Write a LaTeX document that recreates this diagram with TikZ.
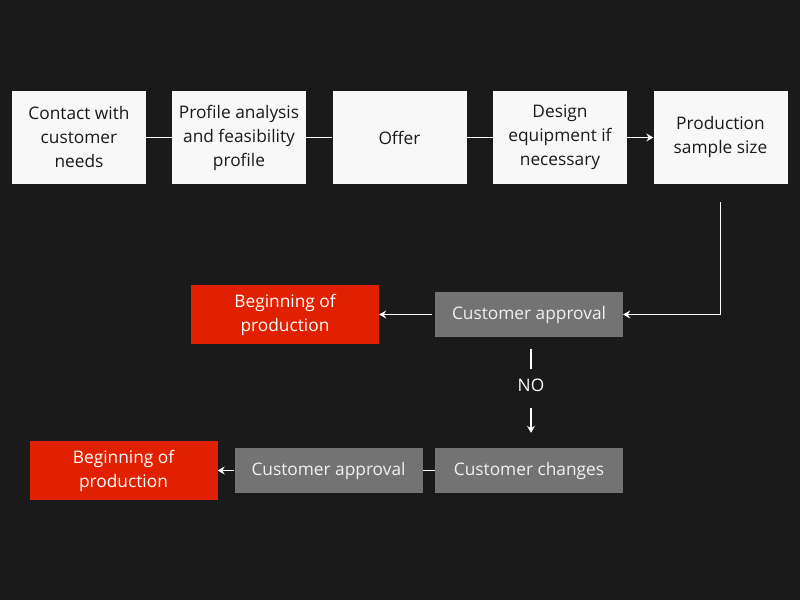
\documentclass[tikz,border=0pt]{standalone}
\usepackage{fontspec}
\setmainfont{Open Sans}
\usetikzlibrary{arrows.meta, positioning, calc}
\usepackage{xcolor}
\definecolor{bgdark}{RGB}{26,26,26}
\definecolor{boxwhite}{RGB}{248,248,248}
\definecolor{boxgray}{RGB}{115,115,115}
\definecolor{boxred}{RGB}{224,32,0}

\begin{document}
\begin{tikzpicture}[x=1pt, y=-1pt, font=\fontsize{17.3}{24}\selectfont,
  boxbase/.style={inner sep=0pt, align=center, execute at begin node={\vspace*{4pt}}},
  stagebox/.style={boxbase, fill=boxwhite, text=bgdark, minimum width=134pt, minimum height=93pt},
  checkbox/.style={boxbase, fill=boxgray, text=white!94!black, minimum width=188pt, minimum height=45pt},
  startbox/.style={boxbase, fill=boxred, text=white, minimum width=188pt, minimum height=59pt},
  link/.style={draw=white, line width=1.6pt},
  flow/.style={link, -{Stealth[length=7pt,width=8pt,inset=2.5pt]}}]
  % Canvas
  \fill[bgdark] (0,0) rectangle (800,600);

  % Top row of stages
  \node[stagebox] (contact)  at (79,137.5)    {Contact with\\customer\\needs};
  \node[stagebox] (analysis) at (239,137.5)   {Profile analysis\\and feasibility\\profile};
  \node[stagebox] (offer)    at (399.5,137.5) {Offer};
  \node[stagebox] (design)   at (560,137.5)   {Design\\equipment if\\necessary};
  \node[stagebox] (sample)   at (720.5,137.5) {Production\\sample size};
  \foreach \a/\b in {contact/analysis, analysis/offer, offer/design}
    \draw[link] (\a) -- (\b);
  \draw[flow] (design) -- (sample);

  % Approval branch
  \node[checkbox] (approvalA) at (529,314.5) {Customer approval};
  \node[startbox] (startA) at (285,314.5) {Beginning of\\production};
  \node[checkbox] (changes) at (529,470.5) {Customer changes};
  \node[checkbox] (approvalB) at (328.5,470.5) {Customer approval};
  \node[startbox] (startB) at (123.5,470.5) {Beginning of\\production};
  \node[text=white, inner sep=0pt] (no) at (531,385) {NO};

  \draw[flow] ([yshift=-18pt]sample.south) |- (approvalA.east);
  \draw[flow, shorten <=3pt] (approvalA) -- (startA);
  \draw[link, shorten <=12pt, shorten >=9pt] (no |- approvalA.south) -- (no);
  \draw[flow, shorten <=16pt, shorten >=15pt] (no) -- (no |- changes.north);
  \draw[link] (changes) -- (approvalB);
  \draw[flow] (approvalB) -- (startB);
\end{tikzpicture}
\end{document}
